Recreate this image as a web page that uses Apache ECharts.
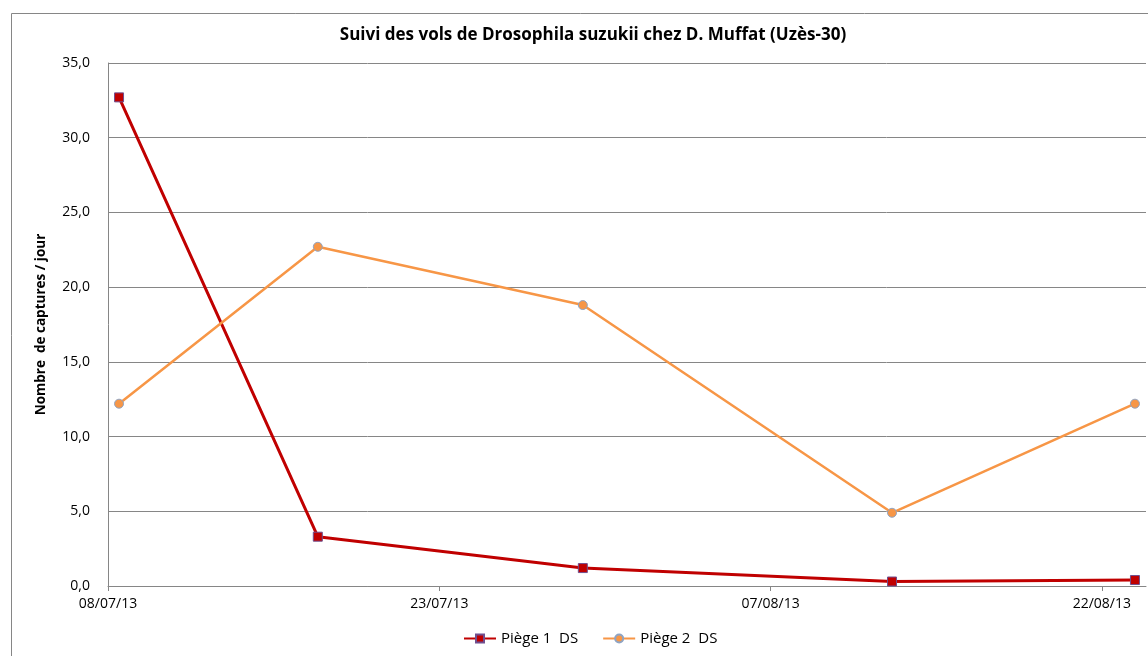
<!DOCTYPE html>
<html>
<head>
    <meta charset="utf-8">
    <title>Suivi des vols de Drosophila suzukii</title>
    <style>
        body { margin: 0; padding: 0; background: #fff; }
        #chart { width: 1148px; height: 656px; }
    </style>
</head>
<body>
    <div id="chart"></div>
    <script src="https://cdn.jsdelivr.net/npm/echarts@6/dist/echarts.min.js"></script>
    <script>
        // dates de relevé et captures par jour
        const dates = ['2013-07-08', '2013-07-17', '2013-07-29', '2013-08-12', '2013-08-23'];
        const piege1 = [32.7, 3.3, 1.2, 0.3, 0.4];
        const piege2 = [12.2, 22.7, 18.8, 4.9, 12.2];
        const startDate = '2013-07-08';
        const tickDays = [0, 15, 30, 45];

        const DAY = 86400000;
        const t0 = Date.parse(startDate + 'T00:00:00Z');
        // Excel place les points au milieu du jour
        const dayOf = d => (Date.parse(d + 'T00:00:00Z') - t0) / DAY + 0.5;
        const pad = n => (n < 10 ? '0' : '') + n;
        function fmtDay(v) {
            const d = new Date(t0 + Math.round(v) * DAY);
            return pad(d.getUTCDate()) + '/' + pad(d.getUTCMonth() + 1) + '/' + String(d.getUTCFullYear()).slice(2);
        }

        const font = 'Open Sans, Noto Sans, sans-serif';
        const chart = echarts.init(document.getElementById('chart'));
        chart.setOption({
            animation: false,
            title: {
                text: 'Suivi des vols de Drosophila suzukii chez D. Muffat (Uzès-30)',
                left: 588, top: 22, textAlign: 'center',
                textStyle: { fontFamily: font, fontSize: 17, fontWeight: 'bold', color: '#000' }
            },
            graphic: [{
                type: 'rect', left: 9, top: 11,
                shape: { width: 1160, height: 660 },
                style: { fill: 'none', stroke: '#868686', lineWidth: 1 }
            }],
            legend: {
                bottom: 5, left: 458, itemWidth: 32, itemHeight: 10, itemGap: 24,
                textStyle: { fontFamily: font, fontSize: 15, color: '#000' },
                data: ['Piège 1  DS', 'Piège 2  DS']
            },
            grid: { left: 108, right: 2, top: 63, bottom: 70 },
            xAxis: {
                type: 'value', min: 0, max: 47,
                axisLine: { lineStyle: { color: '#868686' } },
                axisTick: { show: true, customValues: tickDays, length: 5, lineStyle: { color: '#868686' } },
                axisLabel: {
                    customValues: tickDays, formatter: fmtDay, margin: 11,
                    fontFamily: font, fontSize: 14, color: '#000'
                },
                splitLine: { show: false }
            },
            yAxis: {
                type: 'value', min: 0, max: 35, interval: 5,
                name: 'Nombre  de captures / jour', nameLocation: 'middle', nameGap: 60,
                nameTextStyle: { fontFamily: font, fontSize: 13.5, fontWeight: 'bold', color: '#000' },
                axisLine: { show: true, lineStyle: { color: '#868686' } },
                axisTick: { show: false },
                axisLabel: {
                    formatter: v => v.toFixed(1).replace('.', ','), margin: 18,
                    fontFamily: font, fontSize: 14, color: '#000'
                },
                splitLine: { lineStyle: { color: '#868686' } }
            },
            series: [{
                name: 'Piège 1  DS', type: 'line',
                data: dates.map((d, i) => [dayOf(d), piege1[i]]),
                symbol: 'rect', symbolSize: 9,
                lineStyle: { color: '#C00000', width: 3 },
                itemStyle: { color: '#C00000', borderColor: '#6F4F8F', borderWidth: 1 }
            }, {
                name: 'Piège 2  DS', type: 'line',
                data: dates.map((d, i) => [dayOf(d), piege2[i]]),
                symbol: 'circle', symbolSize: 9,
                lineStyle: { color: '#F79646', width: 2.5 },
                itemStyle: { color: '#F79646', borderColor: '#8EA4C4', borderWidth: 1 }
            }]
        });
    </script>
</body>
</html>
